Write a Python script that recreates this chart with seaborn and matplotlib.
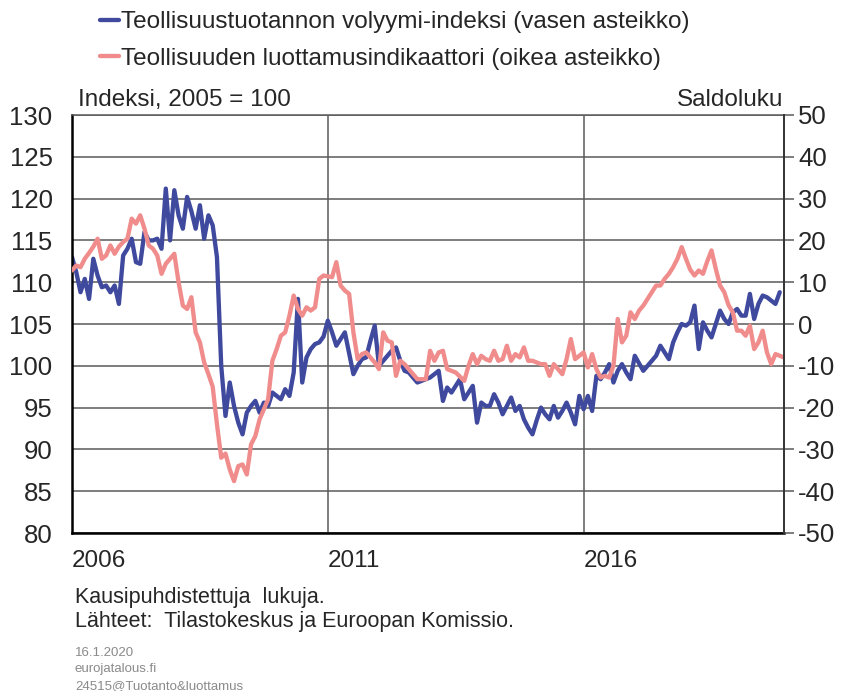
#  Import Required Libraries
import numpy as np
import pandas as pd
import seaborn as sns
import matplotlib.pyplot as plt

#  Data (monthly, Jan 2006 ->)
prod_index = [
    113.0, 111.2, 108.8, 110.4, 108.0, 112.8, 110.8, 109.4, 109.6, 108.8, 109.6, 107.4,  # 2006
    113.2, 114.0, 115.2, 112.4, 112.2, 116.0, 115.0, 115.0, 115.2, 114.0, 121.2, 115.0,  # 2007
    121.0, 118.0, 116.4, 120.2, 118.5, 116.4, 119.2, 115.2, 118.0, 116.8, 113.0, 100.0,  # 2008
    94.0, 98.0, 95.2, 93.2, 91.8, 94.4, 95.2, 95.8, 94.4, 95.6, 95.2, 96.8,              # 2009
    96.4, 96.0, 97.2, 96.4, 99.2, 108.0, 98.0, 101.0, 102.0, 102.6, 102.8, 103.5,        # 2010
    105.4, 104.0, 102.4, 103.2, 104.0, 101.5, 99.0, 100.0, 100.8, 101.0, 103.0, 104.8,   # 2011
    100.0, 100.6, 101.2, 101.8, 102.2, 100.6, 99.4, 99.2, 98.6, 98.0, 98.2, 98.4,        # 2012
    98.6, 99.0, 99.4, 95.8, 97.4, 96.8, 97.6, 98.4, 96.0, 96.8, 97.6, 93.2,              # 2013
    95.6, 95.2, 95.2, 96.6, 95.6, 94.2, 95.2, 96.2, 94.6, 95.2, 93.6, 92.6,              # 2014
    91.8, 93.5, 95.0, 94.2, 93.6, 95.2, 93.8, 94.6, 95.6, 94.4, 93.0, 96.4,              # 2015
    94.8, 96.4, 94.6, 98.8, 98.4, 99.2, 100.2, 98.0, 99.4, 100.2, 99.2, 98.4,            # 2016
    101.2, 100.3, 99.4, 100.0, 100.6, 101.2, 102.4, 101.6, 100.8, 102.8, 104.0, 105.0,   # 2017
    104.8, 105.2, 107.2, 102.0, 105.2, 104.2, 103.4, 105.0, 106.6, 105.6, 105.0, 106.4,  # 2018
    106.8, 106.0, 106.0, 108.6, 105.6, 107.4, 108.4, 108.2, 107.8, 107.4, 108.8,         # 2019 (to Nov)
]

confidence = [
    12.8, 14.0, 13.6, 15.6, 17.0, 18.5, 20.4, 15.6, 16.4, 18.8, 16.8, 18.5,              # 2006
    19.6, 20.4, 25.2, 24.0, 26.0, 22.8, 18.8, 18.0, 16.4, 12.0, 14.4, 15.6,              # 2007
    16.8, 10.0, 4.4, 3.6, 6.4, -2.0, -4.4, -9.2, -12.0, -15.0, -24.0, -32.0,             # 2008
    -31.0, -34.8, -37.6, -34.0, -33.6, -36.0, -28.8, -26.8, -22.8, -20.4, -18.0, -8.8,   # 2009
    -6.0, -2.8, -2.0, 2.0, 6.8, 3.6, 2.0, 4.0, 3.2, 4.0, 10.8, 11.6,                     # 2010
    11.4, 11.2, 14.8, 9.2, 8.0, 7.2, -2.0, -8.4, -7.2, -6.8, -8.0, -9.2,                 # 2011
    -10.8, -2.0, -4.0, -4.4, -12.4, -8.8, -9.6, -10.8, -12.0, -13.2, -13.2, -13.2,       # 2012
    -6.4, -8.8, -6.8, -6.4, -10.8, -11.2, -11.6, -12.6, -13.6, -10.0, -7.2, -9.6,        # 2013
    -7.6, -8.4, -8.8, -6.4, -8.8, -8.4, -5.2, -8.8, -7.2, -8.0, -5.6, -8.8,              # 2014
    -8.8, -9.2, -9.6, -9.6, -12.4, -9.6, -10.8, -12.0, -8.4, -3.6, -8.4, -7.6,           # 2015
    -6.8, -10.4, -7.2, -10.8, -12.8, -12.4, -12.8, -10.0, 1.2, -4.4, -2.8, 2.8,          # 2016
    1.2, 3.2, 4.4, 6.0, 7.6, 9.2, 9.2, 10.8, 12.0, 13.6, 15.6, 18.4,                     # 2017
    15.6, 13.0, 11.6, 12.8, 12.0, 15.0, 17.6, 13.2, 9.2, 7.6, 4.5, 2.8,                  # 2018
    -1.6, -1.6, -2.8, -0.4, -6.0, -4.4, -1.6, -6.8, -9.6, -7.2, -7.6, -8.0,              # 2019
]

year_labels = ["2006", "2011", "2016"]
label_prod = "Teollisuustuotannon volyymi-indeksi (vasen asteikko)"
label_conf = "Teollisuuden luottamusindikaattori (oikea asteikko)"

# time axis as decimal years
df_prod = pd.DataFrame({"t": 2006 + np.arange(len(prod_index)) / 12, "v": prod_index})
df_conf = pd.DataFrame({"t": 2006 + np.arange(len(confidence)) / 12, "v": confidence})

#  Set Plot Style
sns.set_style("white")
plt.rcParams['font.family'] = ['Liberation Sans', 'DejaVu Sans']
plt.rcParams['axes.unicode_minus'] = False

BLUE = "#3f4a9e"
PINK = "#f08c8c"
GRID = "#5a5a5a"
FS = 17.5
TFS = 18.5

fig = plt.figure(figsize=(8.45, 6.91), dpi=100)
ax = fig.add_axes([72 / 845, 1 - 533 / 691, 712 / 845, 418 / 691])
ax2 = ax.twinx()

sns.lineplot(data=df_prod, x="t", y="v", ax=ax, color=BLUE, linewidth=3.1, label=label_prod, legend=False)
sns.lineplot(data=df_conf, x="t", y="v", ax=ax2, color=PINK, linewidth=3.1, label=label_conf, legend=False)

# axes ranges
ax.set_xlim(2006, 2006 + 167 / 12)
ax.set_ylim(80, 130)
ax2.set_ylim(-50, 50)
ax.set_yticks(range(80, 131, 5))
ax2.set_yticks(range(-50, 51, 10))
ax.set_xlabel("")
ax.set_ylabel("")
ax2.set_ylabel("")

# x ticks: grid every 5 years, small marks every year
ax.set_xticks([2006, 2011, 2016])
ax.set_xticklabels(year_labels, ha="left")
ax.set_xticks(range(2007, 2020), minor=True)
ax.tick_params(axis="x", which="major", direction="in", length=0, pad=12, labelsize=FS)
ax.tick_params(axis="x", which="minor", direction="in", length=5, width=1, color=GRID)
ax.tick_params(axis="y", length=0, pad=14, labelsize=TFS)
ax2.tick_params(axis="y", direction="out", length=7, width=1.1, color=GRID, pad=3, labelsize=TFS)

ax.grid(True, which="major", color=GRID, linewidth=1.1)
ax.set_axisbelow(True)

for s in ["left", "bottom"]:
    ax.spines[s].set_color("black")
    ax.spines[s].set_linewidth(1.8)
ax.spines["top"].set_color(GRID)
ax.spines["top"].set_linewidth(1.1)
ax2.spines["top"].set_visible(False)
ax2.spines["left"].set_visible(False)
ax2.spines["bottom"].set_visible(False)
ax2.spines["right"].set_color("#333333")
ax2.spines["right"].set_linewidth(1.4)
ax.spines["right"].set_visible(False)

# legend on top
h1, l1 = ax.get_legend_handles_labels()
h2, l2 = ax2.get_legend_handles_labels()
fig.legend(h1 + h2, l1 + l2, loc="upper left", bbox_to_anchor=(100 / 845, 1 - 11 / 691),
           frameon=False, fontsize=FS, handlelength=0.8, handletextpad=0.05,
           borderpad=0, borderaxespad=0, labelspacing=0.6)

# axis captions
fig.text(78 / 845, 1 - 100 / 691, "Indeksi, 2005 = 100", fontsize=FS, va="center", ha="left")
fig.text(783 / 845, 1 - 100 / 691, "Saldoluku", fontsize=FS, va="center", ha="right")

# notes
fig.text(75 / 845, 1 - 598 / 691, "Kausipuhdistettuja  lukuja.", fontsize=15.5, va="center")
fig.text(75 / 845, 1 - 621 / 691, "Lähteet:  Tilastokeskus ja Euroopan Komissio.", fontsize=15.5, va="center")
fig.text(75 / 845, 1 - 653 / 691, "16.1.2020", fontsize=9.5, color="#8a8a8a", va="center")
fig.text(75 / 845, 1 - 669 / 691, "eurojatalous.fi", fontsize=9.5, color="#8a8a8a", va="center")
fig.text(75 / 845, 1 - 686 / 691, "24515@Tuotanto&luottamus", fontsize=9.5, color="#8a8a8a", va="center")

plt.savefig("out.png", dpi=100)
